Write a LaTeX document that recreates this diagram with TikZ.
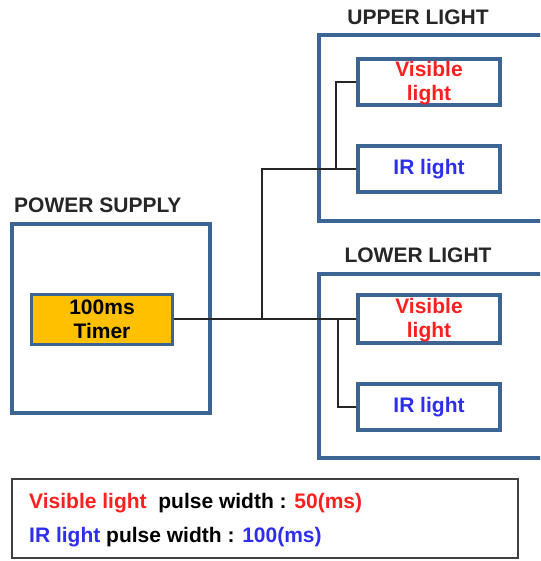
\documentclass[tikz,border=0pt]{standalone}
\usepackage{fontspec}
\setmainfont{Liberation Sans}
\usepackage{xcolor}
\usetikzlibrary{positioning}
\definecolor{frameblue}{HTML}{3D6594}
\definecolor{timerfill}{HTML}{FFC000}
\definecolor{visred}{HTML}{FF1F1F}
\definecolor{irblue}{HTML}{2E2EF0}
\newcommand{\VIS}[1]{\textcolor{visred}{#1}}
\newcommand{\IR}[1]{\textcolor{irblue}{#1}}

\begin{document}
\begin{tikzpicture}[
  x=1pt, y=-1pt,
  font=\fontsize{21}{24}\selectfont\bfseries,
  unit/.style={draw=frameblue, line width=4pt, inner sep=0pt,
               minimum width=#1},
  lamp/.style={draw=frameblue, line width=4pt, inner sep=0pt, align=center,
               minimum width=142pt, minimum height=46pt},
  title/.style={inner sep=0pt, text=black!85},
  wire/.style={line width=1.3pt, black!85}
]
\clip (0,0) rectangle (540,561);

% power supply
\node[unit=198pt, minimum height=189pt] (psu) at (111,318.5) {};
\node[title, anchor=south west] (psulbl) at (14,213) {POWER SUPPLY};
\node[draw=frameblue, fill=timerfill, line width=3pt, inner sep=0pt, align=center,
      minimum width=141pt, minimum height=50pt] (timer) at (102,319) {100ms\\Timer};

% upper light
\node[unit=226pt, minimum height=186pt] (upper) at (432,128) {};
\node[title] (upperlbl) at (418,17) {UPPER LIGHT};
\node[lamp, text=visred, text depth=3pt] (upvis) at (429,82) {Visible\\light};
\node[lamp, text=irblue] (upir) at (429,169) {IR light};

% lower light
\node[unit=226pt, minimum height=184pt] (lower) at (432,366) {};
\node[title] (lowerlbl) at (418,255) {LOWER LIGHT};
\node[lamp, minimum height=48pt, text=visred, text depth=3pt] (lovis) at (429,319) {Visible\\light};
\node[lamp, text=irblue] (loir) at (429,407) {IR light};

% wiring
\coordinate (tap) at (262,319);
\draw[wire] (timer.east) -- (lovis.west);
\draw[wire] (tap) |- (upir.west);
\draw[wire] (upvis.west) -| ([xshift=-20pt]upir.west);
\draw[wire] ([xshift=-18pt]lovis.west) |- (loir.west);

% legend
\node[draw=black!75, line width=1.5pt, minimum width=506pt, minimum height=79pt,
      inner sep=0pt] (legend) at (265,518.5) {};
\node[anchor=west, inner sep=0pt] (legvis) at (29,503)
  {\VIS{Visible light}\ \ pulse width : \VIS{50(ms)}};
\node[anchor=west, inner sep=0pt] (legir) at (29,537)
  {\IR{IR light} pulse width : \IR{100(ms)}};
\end{tikzpicture}
\end{document}
